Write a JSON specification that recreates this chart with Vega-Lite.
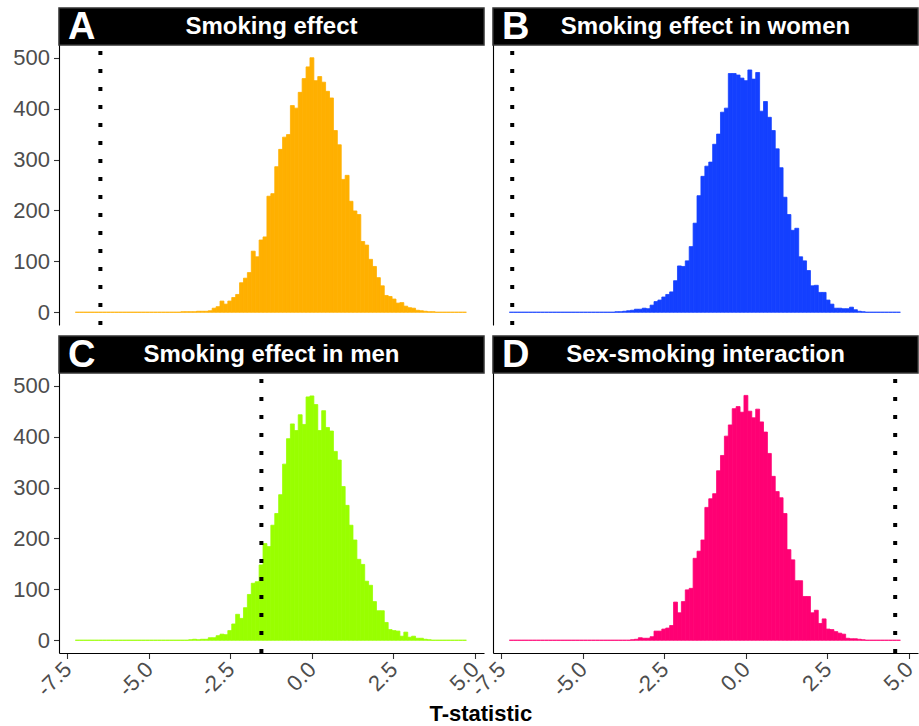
{
  "$schema": "https://vega.github.io/schema/vega-lite/v6.json",
  "padding": {"left": 12, "top": 7, "right": 0, "bottom": 0},
  "config": {
    "view": {"stroke": null},
    "font": "Liberation Sans",
    "axis": {"grid": false, "labelFont": "Liberation Sans", "labelColor": "#4D4D4D", "labelFontSize": 22, "tickColor": "#333333", "tickWidth": 1.1, "tickSize": 5.5, "domainColor": "#000000", "domainWidth": 1.1, "labelPadding": 4, "title": null}
  },
  "title": {"text": "T-statistic", "orient": "bottom", "anchor": "middle", "fontSize": 22, "fontWeight": "bold", "color": "#000000", "font": "Liberation Sans", "offset": 4, "dx": 15},
  "datasets": {
    "hist": [
      {"lo": -7.26, "hi": -7.14, "A": 0, "B": 0, "C": 0, "D": 0},
      {"lo": -7.14, "hi": -7.02, "A": 0, "B": 0, "C": 0, "D": 0},
      {"lo": -7.02, "hi": -6.90, "A": 0, "B": 0, "C": 0, "D": 0},
      {"lo": -6.90, "hi": -6.78, "A": 0, "B": 0, "C": 0, "D": 0},
      {"lo": -6.78, "hi": -6.66, "A": 0, "B": 0, "C": 0, "D": 0},
      {"lo": -6.66, "hi": -6.54, "A": 0, "B": 0, "C": 0, "D": 0},
      {"lo": -6.54, "hi": -6.42, "A": 0, "B": 0, "C": 0, "D": 0},
      {"lo": -6.42, "hi": -6.30, "A": 0, "B": 0, "C": 0, "D": 0},
      {"lo": -6.30, "hi": -6.18, "A": 0, "B": 0, "C": 0, "D": 0},
      {"lo": -6.18, "hi": -6.06, "A": 0, "B": 0, "C": 0, "D": 0},
      {"lo": -6.06, "hi": -5.94, "A": 0, "B": 0, "C": 0, "D": 0},
      {"lo": -5.94, "hi": -5.82, "A": 0, "B": 0, "C": 0, "D": 0},
      {"lo": -5.82, "hi": -5.70, "A": 0, "B": 0, "C": 0, "D": 0},
      {"lo": -5.70, "hi": -5.58, "A": 0, "B": 0, "C": 0, "D": 0},
      {"lo": -5.58, "hi": -5.46, "A": 0, "B": 0, "C": 0, "D": 0},
      {"lo": -5.46, "hi": -5.34, "A": 0, "B": 0, "C": 0, "D": 0},
      {"lo": -5.34, "hi": -5.22, "A": 0, "B": 0, "C": 0, "D": 0},
      {"lo": -5.22, "hi": -5.10, "A": 0, "B": 0, "C": 0, "D": 0},
      {"lo": -5.10, "hi": -4.98, "A": 0, "B": 0, "C": 0, "D": 0},
      {"lo": -4.98, "hi": -4.86, "A": 0, "B": 0, "C": 0, "D": 0},
      {"lo": -4.86, "hi": -4.74, "A": 0, "B": 0, "C": 0, "D": 0},
      {"lo": -4.74, "hi": -4.62, "A": 0, "B": 0, "C": 0, "D": 0},
      {"lo": -4.62, "hi": -4.50, "A": 0, "B": 0, "C": 0, "D": 0},
      {"lo": -4.50, "hi": -4.38, "A": 0, "B": 0, "C": 0, "D": 0},
      {"lo": -4.38, "hi": -4.26, "A": 0, "B": 0, "C": 0, "D": 0},
      {"lo": -4.26, "hi": -4.14, "A": 0, "B": 0, "C": 0, "D": 0},
      {"lo": -4.14, "hi": -4.02, "A": 0, "B": 0, "C": 0, "D": 0},
      {"lo": -4.02, "hi": -3.90, "A": 1, "B": 1, "C": 0, "D": 0},
      {"lo": -3.90, "hi": -3.78, "A": 1, "B": 1, "C": 0, "D": 0},
      {"lo": -3.78, "hi": -3.66, "A": 1, "B": 2, "C": 1, "D": 0},
      {"lo": -3.66, "hi": -3.54, "A": 1, "B": 3, "C": 2, "D": 0},
      {"lo": -3.54, "hi": -3.42, "A": 2, "B": 4, "C": 1, "D": 1},
      {"lo": -3.42, "hi": -3.30, "A": 2, "B": 6, "C": 2, "D": 2},
      {"lo": -3.30, "hi": -3.18, "A": 2, "B": 6, "C": 2, "D": 5},
      {"lo": -3.18, "hi": -3.06, "A": 3, "B": 8, "C": 5, "D": 4},
      {"lo": -3.06, "hi": -2.94, "A": 8, "B": 7, "C": 5, "D": 4},
      {"lo": -2.94, "hi": -2.82, "A": 11, "B": 14, "C": 9, "D": 7},
      {"lo": -2.82, "hi": -2.70, "A": 22, "B": 21, "C": 12, "D": 18},
      {"lo": -2.70, "hi": -2.58, "A": 16, "B": 24, "C": 11, "D": 18},
      {"lo": -2.58, "hi": -2.46, "A": 22, "B": 30, "C": 19, "D": 22},
      {"lo": -2.46, "hi": -2.34, "A": 29, "B": 35, "C": 32, "D": 24},
      {"lo": -2.34, "hi": -2.22, "A": 35, "B": 40, "C": 51, "D": 29},
      {"lo": -2.22, "hi": -2.10, "A": 58, "B": 62, "C": 43, "D": 75},
      {"lo": -2.10, "hi": -1.98, "A": 67, "B": 91, "C": 64, "D": 54},
      {"lo": -1.98, "hi": -1.86, "A": 78, "B": 90, "C": 90, "D": 76},
      {"lo": -1.86, "hi": -1.74, "A": 120, "B": 101, "C": 112, "D": 99},
      {"lo": -1.74, "hi": -1.62, "A": 109, "B": 129, "C": 115, "D": 102},
      {"lo": -1.62, "hi": -1.50, "A": 142, "B": 175, "C": 148, "D": 161},
      {"lo": -1.50, "hi": -1.38, "A": 148, "B": 229, "C": 190, "D": 175},
      {"lo": -1.38, "hi": -1.26, "A": 228, "B": 267, "C": 184, "D": 197},
      {"lo": -1.26, "hi": -1.14, "A": 233, "B": 287, "C": 226, "D": 261},
      {"lo": -1.14, "hi": -1.02, "A": 286, "B": 295, "C": 249, "D": 278},
      {"lo": -1.02, "hi": -0.90, "A": 320, "B": 330, "C": 286, "D": 288},
      {"lo": -0.90, "hi": -0.78, "A": 344, "B": 350, "C": 346, "D": 333},
      {"lo": -0.78, "hi": -0.66, "A": 349, "B": 393, "C": 396, "D": 363},
      {"lo": -0.66, "hi": -0.54, "A": 406, "B": 401, "C": 425, "D": 401},
      {"lo": -0.54, "hi": -0.42, "A": 401, "B": 469, "C": 412, "D": 423},
      {"lo": -0.42, "hi": -0.30, "A": 432, "B": 469, "C": 443, "D": 455},
      {"lo": -0.30, "hi": -0.18, "A": 459, "B": 466, "C": 424, "D": 459},
      {"lo": -0.18, "hi": -0.06, "A": 482, "B": 460, "C": 478, "D": 448},
      {"lo": -0.06, "hi": 0.06, "A": 500, "B": 455, "C": 480, "D": 481},
      {"lo": 0.06, "hi": 0.18, "A": 455, "B": 476, "C": 463, "D": 450},
      {"lo": 0.18, "hi": 0.30, "A": 463, "B": 458, "C": 412, "D": 437},
      {"lo": 0.30, "hi": 0.42, "A": 452, "B": 471, "C": 451, "D": 454},
      {"lo": 0.42, "hi": 0.54, "A": 434, "B": 395, "C": 418, "D": 429},
      {"lo": 0.54, "hi": 0.66, "A": 421, "B": 414, "C": 411, "D": 409},
      {"lo": 0.66, "hi": 0.78, "A": 357, "B": 383, "C": 371, "D": 367},
      {"lo": 0.78, "hi": 0.90, "A": 329, "B": 357, "C": 354, "D": 322},
      {"lo": 0.90, "hi": 1.02, "A": 261, "B": 321, "C": 302, "D": 292},
      {"lo": 1.02, "hi": 1.14, "A": 269, "B": 284, "C": 265, "D": 280},
      {"lo": 1.14, "hi": 1.26, "A": 218, "B": 226, "C": 226, "D": 249},
      {"lo": 1.26, "hi": 1.38, "A": 199, "B": 192, "C": 197, "D": 178},
      {"lo": 1.38, "hi": 1.50, "A": 192, "B": 161, "C": 159, "D": 158},
      {"lo": 1.50, "hi": 1.62, "A": 139, "B": 165, "C": 149, "D": 117},
      {"lo": 1.62, "hi": 1.74, "A": 132, "B": 109, "C": 116, "D": 117},
      {"lo": 1.74, "hi": 1.86, "A": 104, "B": 101, "C": 108, "D": 86},
      {"lo": 1.86, "hi": 1.98, "A": 90, "B": 82, "C": 76, "D": 86},
      {"lo": 1.98, "hi": 2.10, "A": 68, "B": 52, "C": 58, "D": 54},
      {"lo": 2.10, "hi": 2.22, "A": 52, "B": 53, "C": 58, "D": 59},
      {"lo": 2.22, "hi": 2.34, "A": 33, "B": 39, "C": 35, "D": 33},
      {"lo": 2.34, "hi": 2.46, "A": 31, "B": 39, "C": 21, "D": 42},
      {"lo": 2.46, "hi": 2.58, "A": 26, "B": 24, "C": 19, "D": 22},
      {"lo": 2.58, "hi": 2.70, "A": 18, "B": 16, "C": 18, "D": 21},
      {"lo": 2.70, "hi": 2.82, "A": 19, "B": 8, "C": 8, "D": 17},
      {"lo": 2.82, "hi": 2.94, "A": 12, "B": 8, "C": 16, "D": 14},
      {"lo": 2.94, "hi": 3.06, "A": 9, "B": 7, "C": 6, "D": 12},
      {"lo": 3.06, "hi": 3.18, "A": 8, "B": 7, "C": 8, "D": 4},
      {"lo": 3.18, "hi": 3.30, "A": 4, "B": 10, "C": 4, "D": 3},
      {"lo": 3.30, "hi": 3.42, "A": 3, "B": 5, "C": 4, "D": 3},
      {"lo": 3.42, "hi": 3.54, "A": 2, "B": 2, "C": 2, "D": 2},
      {"lo": 3.54, "hi": 3.66, "A": 1, "B": 1, "C": 1, "D": 1},
      {"lo": 3.66, "hi": 3.78, "A": 1, "B": 0, "C": 0, "D": 0},
      {"lo": 3.78, "hi": 3.90, "A": 0, "B": 0, "C": 0, "D": 0},
      {"lo": 3.90, "hi": 4.02, "A": 0, "B": 0, "C": 0, "D": 0},
      {"lo": 4.02, "hi": 4.14, "A": 0, "B": 0, "C": 0, "D": 0},
      {"lo": 4.14, "hi": 4.26, "A": 0, "B": 0, "C": 0, "D": 0},
      {"lo": 4.26, "hi": 4.38, "A": 0, "B": 0, "C": 0, "D": 0},
      {"lo": 4.38, "hi": 4.50, "A": 0, "B": 0, "C": 0, "D": 0},
      {"lo": 4.50, "hi": 4.62, "A": 0, "B": 0, "C": 0, "D": 0},
      {"lo": 4.62, "hi": 4.74, "A": 0, "B": 0, "C": 0, "D": 0}
    ]
  },
  "columns": 2,
  "bounds": "flush",
  "spacing": {"row": 11, "column": 9},
  "concat": [
    {
      "width": 425, "height": 317,
      "layer": [
        {"data": {"name": "hist"},
         "mark": {"type": "bar", "color": "#FFB000", "stroke": "#FFB000", "strokeWidth": 0.8},
         "encoding": {
           "x": {"field": "lo", "type": "quantitative", "scale": {"domain": [-7.76, 5.28], "nice": false, "zero": false}, "axis": null},
           "x2": {"field": "hi"},
           "y": {"field": "A", "type": "quantitative", "scale": {"domain": [-25, 597.7], "nice": false, "zero": false}, "axis": {"values": [0, 100, 200, 300, 400, 500]}},
           "y2": {"datum": 0}
         }},
        {"data": {"values": [{"obs": -6.49}]},
         "mark": {"type": "rule", "color": "#000000", "strokeWidth": 4, "strokeDash": [4, 14]},
         "encoding": {"x": {"field": "obs", "type": "quantitative"}, "y": {"datum": -25, "type": "quantitative"}, "y2": {"datum": 525}}},
        {"data": {"values": [{"letter": "A", "label": "Smoking effect"}]},
         "mark": {"type": "rect", "fill": "#000000", "stroke": "#333333", "strokeWidth": 1.5},
         "encoding": {"x": {"datum": -7.76, "type": "quantitative"}, "x2": {"datum": 5.28}, "y": {"datum": 525, "type": "quantitative"}, "y2": {"datum": 597.7}}},
        {"data": {"values": [{"letter": "A", "label": "Smoking effect"}]},
         "mark": {"type": "text", "align": "left", "baseline": "middle", "fontWeight": "bold", "fontSize": 38, "color": "#FFFFFF", "dx": 9, "dy": 1},
         "encoding": {"text": {"field": "letter"}, "x": {"datum": -7.76, "type": "quantitative"}, "y": {"datum": 561.35, "type": "quantitative"}}},
        {"data": {"values": [{"letter": "A", "label": "Smoking effect"}]},
         "mark": {"type": "text", "align": "center", "baseline": "middle", "fontWeight": "bold", "fontSize": 24, "color": "#FFFFFF"},
         "encoding": {"text": {"field": "label"}, "x": {"datum": -1.24, "type": "quantitative"}, "y": {"datum": 561.35, "type": "quantitative"}}}
      ]
    },
    {
      "width": 425, "height": 317,
      "layer": [
        {"data": {"name": "hist"},
         "mark": {"type": "bar", "color": "#1440FF", "stroke": "#1440FF", "strokeWidth": 0.8},
         "encoding": {
           "x": {"field": "lo", "type": "quantitative", "scale": {"domain": [-7.76, 5.28], "nice": false, "zero": false}, "axis": null},
           "x2": {"field": "hi"},
           "y": {"field": "B", "type": "quantitative", "scale": {"domain": [-25, 597.7], "nice": false, "zero": false}, "axis": {"labels": false, "ticks": false}},
           "y2": {"datum": 0}
         }},
        {"data": {"values": [{"obs": -7.17}]},
         "mark": {"type": "rule", "color": "#000000", "strokeWidth": 4, "strokeDash": [4, 14]},
         "encoding": {"x": {"field": "obs", "type": "quantitative"}, "y": {"datum": -25, "type": "quantitative"}, "y2": {"datum": 525}}},
        {"data": {"values": [{"letter": "B", "label": "Smoking effect in women"}]},
         "mark": {"type": "rect", "fill": "#000000", "stroke": "#333333", "strokeWidth": 1.5},
         "encoding": {"x": {"datum": -7.76, "type": "quantitative"}, "x2": {"datum": 5.28}, "y": {"datum": 525, "type": "quantitative"}, "y2": {"datum": 597.7}}},
        {"data": {"values": [{"letter": "B", "label": "Smoking effect in women"}]},
         "mark": {"type": "text", "align": "left", "baseline": "middle", "fontWeight": "bold", "fontSize": 38, "color": "#FFFFFF", "dx": 9, "dy": 1},
         "encoding": {"text": {"field": "letter"}, "x": {"datum": -7.76, "type": "quantitative"}, "y": {"datum": 561.35, "type": "quantitative"}}},
        {"data": {"values": [{"letter": "B", "label": "Smoking effect in women"}]},
         "mark": {"type": "text", "align": "center", "baseline": "middle", "fontWeight": "bold", "fontSize": 24, "color": "#FFFFFF"},
         "encoding": {"text": {"field": "label"}, "x": {"datum": -1.24, "type": "quantitative"}, "y": {"datum": 561.35, "type": "quantitative"}}}
      ]
    },
    {
      "width": 425, "height": 317,
      "layer": [
        {"data": {"name": "hist"},
         "mark": {"type": "bar", "color": "#99FF00", "stroke": "#99FF00", "strokeWidth": 0.8},
         "encoding": {
           "x": {"field": "lo", "type": "quantitative", "scale": {"domain": [-7.76, 5.28], "nice": false, "zero": false}, "axis": {"values": [-7.5, -5, -2.5, 0, 2.5, 5], "labelAngle": -45, "labelAlign": "right", "labelBaseline": "middle", "labelPadding": 7, "labelExpr": "replace(format(datum.value, '.1f'), '−', '-')"}},
           "x2": {"field": "hi"},
           "y": {"field": "C", "type": "quantitative", "scale": {"domain": [-25, 597.7], "nice": false, "zero": false}, "axis": {"values": [0, 100, 200, 300, 400, 500]}},
           "y2": {"datum": 0}
         }},
        {"data": {"values": [{"obs": -1.55}]},
         "mark": {"type": "rule", "color": "#000000", "strokeWidth": 4, "strokeDash": [4, 14]},
         "encoding": {"x": {"field": "obs", "type": "quantitative"}, "y": {"datum": -25, "type": "quantitative"}, "y2": {"datum": 525}}},
        {"data": {"values": [{"letter": "C", "label": "Smoking effect in men"}]},
         "mark": {"type": "rect", "fill": "#000000", "stroke": "#333333", "strokeWidth": 1.5},
         "encoding": {"x": {"datum": -7.76, "type": "quantitative"}, "x2": {"datum": 5.28}, "y": {"datum": 525, "type": "quantitative"}, "y2": {"datum": 597.7}}},
        {"data": {"values": [{"letter": "C", "label": "Smoking effect in men"}]},
         "mark": {"type": "text", "align": "left", "baseline": "middle", "fontWeight": "bold", "fontSize": 38, "color": "#FFFFFF", "dx": 9, "dy": 1},
         "encoding": {"text": {"field": "letter"}, "x": {"datum": -7.76, "type": "quantitative"}, "y": {"datum": 561.35, "type": "quantitative"}}},
        {"data": {"values": [{"letter": "C", "label": "Smoking effect in men"}]},
         "mark": {"type": "text", "align": "center", "baseline": "middle", "fontWeight": "bold", "fontSize": 24, "color": "#FFFFFF"},
         "encoding": {"text": {"field": "label"}, "x": {"datum": -1.24, "type": "quantitative"}, "y": {"datum": 561.35, "type": "quantitative"}}}
      ]
    },
    {
      "width": 425, "height": 317,
      "layer": [
        {"data": {"name": "hist"},
         "mark": {"type": "bar", "color": "#FF0074", "stroke": "#FF0074", "strokeWidth": 0.8},
         "encoding": {
           "x": {"field": "lo", "type": "quantitative", "scale": {"domain": [-7.76, 5.28], "nice": false, "zero": false}, "axis": {"values": [-7.5, -5, -2.5, 0, 2.5, 5], "labelAngle": -45, "labelAlign": "right", "labelBaseline": "middle", "labelPadding": 7, "labelExpr": "replace(format(datum.value, '.1f'), '−', '-')"}},
           "x2": {"field": "hi"},
           "y": {"field": "D", "type": "quantitative", "scale": {"domain": [-25, 597.7], "nice": false, "zero": false}, "axis": {"labels": false, "ticks": false}},
           "y2": {"datum": 0}
         }},
        {"data": {"values": [{"obs": 4.58}]},
         "mark": {"type": "rule", "color": "#000000", "strokeWidth": 4, "strokeDash": [4, 14]},
         "encoding": {"x": {"field": "obs", "type": "quantitative"}, "y": {"datum": -25, "type": "quantitative"}, "y2": {"datum": 525}}},
        {"data": {"values": [{"letter": "D", "label": "Sex-smoking interaction"}]},
         "mark": {"type": "rect", "fill": "#000000", "stroke": "#333333", "strokeWidth": 1.5},
         "encoding": {"x": {"datum": -7.76, "type": "quantitative"}, "x2": {"datum": 5.28}, "y": {"datum": 525, "type": "quantitative"}, "y2": {"datum": 597.7}}},
        {"data": {"values": [{"letter": "D", "label": "Sex-smoking interaction"}]},
         "mark": {"type": "text", "align": "left", "baseline": "middle", "fontWeight": "bold", "fontSize": 38, "color": "#FFFFFF", "dx": 9, "dy": 1},
         "encoding": {"text": {"field": "letter"}, "x": {"datum": -7.76, "type": "quantitative"}, "y": {"datum": 561.35, "type": "quantitative"}}},
        {"data": {"values": [{"letter": "D", "label": "Sex-smoking interaction"}]},
         "mark": {"type": "text", "align": "center", "baseline": "middle", "fontWeight": "bold", "fontSize": 24, "color": "#FFFFFF"},
         "encoding": {"text": {"field": "label"}, "x": {"datum": -1.24, "type": "quantitative"}, "y": {"datum": 561.35, "type": "quantitative"}}}
      ]
    }
  ]
}
